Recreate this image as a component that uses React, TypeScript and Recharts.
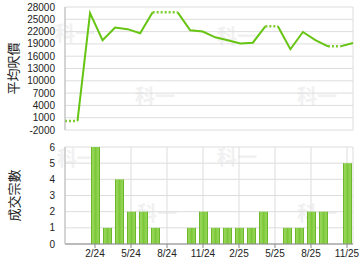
import { LineChart, Line, BarChart, Bar, XAxis, YAxis, CartesianGrid } from "recharts"

const months = [
  "12/23", "1/24", "2/24", "3/24", "4/24", "5/24", "6/24", "7/24", "8/24", "9/24", "10/24", "11/24",
  "12/24", "1/25", "2/25", "3/25", "4/25", "5/25", "6/25", "7/25", "8/25", "9/25", "10/25", "11/25",
]
// 平均呎價
const price = [
  200, 200, 26500, 19900, 23000, 22600, 21600, 26700, 26700, 26700, 22300, 22000,
  20600, 19900, 19100, 19300, 23300, 23300, 17700, 21900, 19900, 18400, 18400, 19200,
]
// 成交宗數
const volume = [0, 0, 6, 1, 4, 2, 2, 1, 0, 0, 1, 2, 1, 1, 1, 1, 2, 0, 1, 1, 2, 2, 0, 5]

const quarterTicks = ["2/24", "5/24", "8/24", "11/24", "2/25", "5/25", "8/25", "11/25"]
const priceTicks = [-2000, 1000, 4000, 7000, 10000, 13000, 16000, 19000, 22000, 25000, 28000]
const volumeTicks = [0, 1, 2, 3, 4, 5, 6]

type Row = {
  month: string
  volume: number
  solidA: number | null
  solidB: number | null
  dotted: number | null
}

// segment into a month with no deals is drawn dotted
const rows: Row[] = months.map((m, i) => ({ month: m, volume: volume[i], solidA: null, solidB: null, dotted: null }))
let run = -1
let prevSolid = false
for (let i = 0; i < months.length - 1; i++) {
  if (volume[i + 1] === 0) {
    rows[i].dotted = price[i]
    rows[i + 1].dotted = price[i + 1]
    prevSolid = false
  } else {
    if (!prevSolid) run++
    const key = run % 2 ? "solidB" : "solidA"
    rows[i][key] = price[i]
    rows[i + 1][key] = price[i + 1]
    prevSolid = true
  }
}

const font = "'Liberation Sans', Arial, sans-serif"
const cjk = "'Noto Sans CJK TC', sans-serif"
const tickStyle = { fontSize: 10, fill: "#222", fontFamily: font }
const lineGreen = "#66c412"

const marks = [
  { x: 55, y: 22 }, { x: 135, y: 85 }, { x: 217, y: 25 }, { x: 297, y: 85 },
  { x: 57, y: 147 }, { x: 137, y: 202 }, { x: 217, y: 146 }, { x: 297, y: 202 },
]

export default function App() {
  return (
    <div style={{ position: "absolute", left: 0, top: 0, width: 360, height: 270, background: "#fff" }}>
      {marks.map((p, i) => (
        <div
          key={i}
          style={{
            position: "absolute", left: p.x, top: p.y, fontSize: 20, fontWeight: "bold",
            color: "#f1f1f1", fontFamily: cjk, lineHeight: "22px",
          }}
        >
          科一
        </div>
      ))}
      <div style={{ position: "absolute", left: 0, top: 0 }}>
        <LineChart width={360} height={135} data={rows} margin={{ top: 7, right: 7, left: 0, bottom: 5 }}>
          <CartesianGrid stroke="#ddd" vertical horizontal />
          <XAxis
            dataKey="month"
            ticks={quarterTicks}
            interval={0}
            tick={false}
            tickLine={false}
            height={0}
            axisLine={{ stroke: "#888" }}
          />
          <YAxis
            type="number"
            domain={[-2000, 28000]}
            ticks={priceTicks}
            interval={0}
            width={65}
            tickLine={false}
            tickMargin={4}
            axisLine={{ stroke: "#bbb" }}
            tick={tickStyle}
            label={{ value: "平均呎價", angle: -90, position: "center", dx: -19, style: { fontSize: 13, fill: "#222", fontFamily: cjk } }}
          />
          <Line type="linear" dataKey="dotted" stroke="#7ccc2c" strokeWidth={2.5} strokeDasharray="2 2" dot={false} isAnimationActive={false} />
          <Line type="linear" dataKey="solidA" stroke={lineGreen} strokeWidth={2} dot={false} isAnimationActive={false} />
          <Line type="linear" dataKey="solidB" stroke={lineGreen} strokeWidth={2} dot={false} isAnimationActive={false} />
        </LineChart>
      </div>
      <div style={{ position: "absolute", left: 0, top: 135 }}>
        <BarChart width={360} height={135} data={rows} margin={{ top: 12, right: 7, left: 0, bottom: 6 }}>
          <defs>
            <linearGradient id="barFill" x1="0" y1="0" x2="1" y2="0">
              <stop offset="0%" stopColor="#5aa814" />
              <stop offset="18%" stopColor="#9ad85e" />
              <stop offset="50%" stopColor="#7cc83a" />
              <stop offset="82%" stopColor="#96d65a" />
              <stop offset="100%" stopColor="#5aa814" />
            </linearGradient>
          </defs>
          <CartesianGrid stroke="#ddd" vertical horizontal />
          <XAxis
            dataKey="month"
            ticks={quarterTicks}
            interval={0}
            height={20}
            tickSize={4}
            tickMargin={2}
            tickLine={{ stroke: "#888" }}
            axisLine={{ stroke: "#888" }}
            tick={tickStyle}
          />
          <YAxis
            type="number"
            domain={[0, 6]}
            ticks={volumeTicks}
            interval={0}
            width={65}
            tickLine={false}
            tickMargin={4}
            axisLine={{ stroke: "#bbb" }}
            tick={tickStyle}
            label={{ value: "成交宗數", angle: -90, position: "center", dx: -18, style: { fontSize: 13, fill: "#222", fontFamily: cjk } }}
          />
          <Bar dataKey="volume" fill="url(#barFill)" barSize={9} isAnimationActive={false} />
        </BarChart>
      </div>
    </div>
  )
}
